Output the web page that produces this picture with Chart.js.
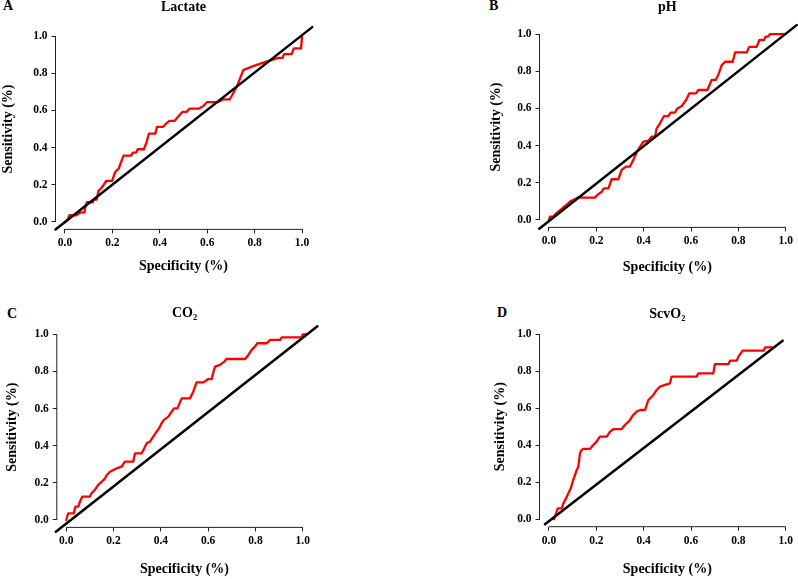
<!DOCTYPE html>
<html>
<head>
<meta charset="utf-8">
<script src="https://cdn.jsdelivr.net/npm/chart.js@4.4.1/dist/chart.umd.min.js"></script>
<style>
  html, body { margin: 0; padding: 0; background: #fff; }
  body { width: 798px; height: 579px; position: relative; overflow: hidden; }
  canvas { position: absolute; }
  .lbl { position: absolute; font-family: 'Liberation Serif', 'Times New Roman', serif; font-weight: bold; font-size: 14px; line-height: 14px; color: #000; }
</style>
</head>
<body>
<div class="lbl" style="left:3px;top:-1px">A</div>
<div class="lbl" style="left:489px;top:-1px">B</div>
<div class="lbl" style="left:7px;top:307px">C</div>
<div class="lbl" style="left:497px;top:306px">D</div>
<canvas id="pA" width="399" height="290" style="left:0;top:0"></canvas>
<canvas id="pB" width="399" height="290" style="left:399px;top:0"></canvas>
<canvas id="pC" width="399" height="290" style="left:0;top:289px"></canvas>
<canvas id="pD" width="399" height="290" style="left:399px;top:289px"></canvas>
<script>
// ---- data ----
const panelTitles = ['Lactate', 'pH', 'CO\u2082', 'ScvO\u2082'];
const tickValues = [0, 0.2, 0.4, 0.6, 0.8, 1.0];
const tickLabels = ['0.0', '0.2', '0.4', '0.6', '0.8', '1.0'];
const xAxisTitle = 'Specificity (%)';
const yAxisTitle = 'Sensitivity (%)';

const lactateSpec = [0, 0.011, 0.018, 0.047, 0.068, 0.082, 0.086, 0.092, 0.117, 0.121, 0.134, 0.141, 0.152, 0.159, 0.171, 0.173, 0.199, 0.209, 0.216, 0.227, 0.233, 0.247, 0.279, 0.286, 0.3, 0.307, 0.333, 0.343, 0.354, 0.381, 0.388, 0.413, 0.427, 0.441, 0.463, 0.477, 0.495, 0.512, 0.526, 0.566, 0.583, 0.6, 0.646, 0.667, 0.695, 0.709, 0.726, 0.752, 0.794, 0.85, 0.9, 0.918, 0.924, 0.956, 0.966, 0.996, 1.0];
const lactateSens = [0, 0.009, 0.036, 0.036, 0.052, 0.052, 0.081, 0.106, 0.106, 0.12, 0.12, 0.167, 0.18, 0.192, 0.215, 0.221, 0.221, 0.26, 0.275, 0.287, 0.31, 0.357, 0.357, 0.373, 0.373, 0.391, 0.391, 0.425, 0.475, 0.475, 0.511, 0.511, 0.53, 0.544, 0.544, 0.566, 0.592, 0.592, 0.61, 0.61, 0.623, 0.645, 0.645, 0.659, 0.659, 0.691, 0.731, 0.817, 0.838, 0.862, 0.883, 0.883, 0.903, 0.903, 0.934, 0.934, 1.0];

const phSpec = [0, 0.004, 0.018, 0.03, 0.045, 0.06, 0.075, 0.089, 0.103, 0.12, 0.194, 0.208, 0.223, 0.232, 0.251, 0.265, 0.293, 0.307, 0.325, 0.342, 0.356, 0.37, 0.385, 0.399, 0.42, 0.434, 0.448, 0.455, 0.469, 0.486, 0.504, 0.514, 0.532, 0.542, 0.561, 0.579, 0.593, 0.621, 0.631, 0.669, 0.687, 0.704, 0.715, 0.73, 0.744, 0.776, 0.786, 0.835, 0.846, 0.877, 0.889, 0.908, 0.915, 0.925, 0.934, 1.0];
const phSens = [0, 0.018, 0.018, 0.035, 0.05, 0.067, 0.082, 0.099, 0.108, 0.12, 0.12, 0.138, 0.152, 0.17, 0.17, 0.219, 0.219, 0.269, 0.287, 0.287, 0.323, 0.362, 0.394, 0.421, 0.427, 0.448, 0.448, 0.493, 0.52, 0.559, 0.559, 0.577, 0.577, 0.6, 0.613, 0.645, 0.681, 0.681, 0.699, 0.699, 0.753, 0.753, 0.78, 0.833, 0.851, 0.851, 0.901, 0.901, 0.931, 0.931, 0.968, 0.968, 0.986, 0.986, 1.0, 1.0];

const co2Spec = [0, 0.008, 0.032, 0.039, 0.051, 0.058, 0.068, 0.1, 0.107, 0.121, 0.135, 0.15, 0.164, 0.171, 0.185, 0.199, 0.213, 0.234, 0.248, 0.283, 0.291, 0.319, 0.33, 0.34, 0.354, 0.368, 0.382, 0.394, 0.403, 0.413, 0.432, 0.441, 0.456, 0.47, 0.488, 0.523, 0.537, 0.551, 0.58, 0.601, 0.615, 0.622, 0.629, 0.65, 0.671, 0.676, 0.756, 0.77, 0.784, 0.798, 0.808, 0.848, 0.862, 0.904, 0.911, 0.996, 1.0, 1.017];
const co2Sens = [0, 0.036, 0.036, 0.072, 0.072, 0.099, 0.126, 0.126, 0.144, 0.162, 0.189, 0.206, 0.224, 0.242, 0.26, 0.269, 0.278, 0.287, 0.314, 0.314, 0.359, 0.359, 0.386, 0.413, 0.422, 0.449, 0.476, 0.497, 0.521, 0.539, 0.557, 0.575, 0.601, 0.601, 0.655, 0.655, 0.691, 0.741, 0.741, 0.759, 0.759, 0.795, 0.826, 0.835, 0.856, 0.867, 0.867, 0.889, 0.916, 0.934, 0.952, 0.952, 0.97, 0.97, 0.984, 0.984, 1.0, 1.0];

const scvo2Spec = [0.021, 0.028, 0.037, 0.054, 0.061, 0.072, 0.082, 0.092, 0.1, 0.11, 0.117, 0.124, 0.131, 0.138, 0.145, 0.173, 0.187, 0.201, 0.215, 0.244, 0.258, 0.272, 0.307, 0.321, 0.342, 0.356, 0.37, 0.385, 0.406, 0.42, 0.441, 0.455, 0.469, 0.49, 0.511, 0.518, 0.624, 0.631, 0.694, 0.701, 0.758, 0.765, 0.793, 0.8, 0.818, 0.906, 0.913, 0.945];
const scvo2Sens = [0, 0.023, 0.059, 0.059, 0.086, 0.113, 0.14, 0.167, 0.203, 0.239, 0.266, 0.284, 0.356, 0.374, 0.38, 0.38, 0.401, 0.419, 0.446, 0.446, 0.473, 0.487, 0.487, 0.509, 0.536, 0.563, 0.581, 0.59, 0.59, 0.644, 0.671, 0.698, 0.716, 0.725, 0.734, 0.77, 0.77, 0.788, 0.788, 0.838, 0.838, 0.856, 0.856, 0.878, 0.91, 0.91, 0.928, 0.928];

// reference (chance) lines, as drawn in each panel
const refA_x = [-0.04, 1.043]; const refA_y = [-0.04, 1.048];
const refB_x = [-0.041, 1.046]; const refB_y = [-0.047, 1.048];
const refC_x = [-0.044, 1.062]; const refC_y = [-0.063, 1.043];
const refD_x = [-0.017, 0.987]; const refD_y = [-0.027, 0.964];

// ---- drawing ----
const FONT = "'Liberation Serif', 'Times New Roman', serif";
Chart.defaults.font.family = FONT;
Chart.defaults.font.weight = 'bold';
Chart.defaults.color = '#000';
const AXIS_COLOR = '#222';

const rAxes = {
  id: 'rAxes',
  beforeDatasetsDraw(chart) {
    const { ctx, chartArea, scales } = chart;
    const x = scales.x, y = scales.y;
    ctx.save();
    ctx.strokeStyle = AXIS_COLOR;
    ctx.lineWidth = 1;
    ctx.beginPath();
    ctx.moveTo(x.getPixelForValue(tickValues[0]), chartArea.bottom);
    ctx.lineTo(x.getPixelForValue(tickValues[tickValues.length - 1]), chartArea.bottom);
    ctx.moveTo(chartArea.left, y.getPixelForValue(tickValues[0]));
    ctx.lineTo(chartArea.left, y.getPixelForValue(tickValues[tickValues.length - 1]));
    ctx.stroke();
    ctx.restore();
  }
};

function pts(xs, ys) { return xs.map((v, i) => ({ x: v, y: ys[i] })); }

function setTicks(scale) {
  scale.ticks = tickValues.map(v => ({ value: v }));
}

function makePanel(id, title, xs, ys, rx, ry, L) {
  new Chart(document.getElementById(id), {
    type: 'scatter',
    data: {
      datasets: [
        { data: pts(rx, ry), showLine: true, borderColor: '#000', borderWidth: 2.5, pointRadius: 0, clip: false, borderCapStyle: 'round' },
        { data: pts(xs, ys), showLine: true, borderColor: '#ff0000', borderWidth: 2.3, pointRadius: 0, clip: false, borderJoinStyle: 'round', borderCapStyle: 'round' }
      ]
    },
    options: {
      responsive: false,
      animation: false,
      devicePixelRatio: 1,
      layout: { padding: { left: L.padLeft, right: L.padRight, top: L.padTop, bottom: L.padBottom } },
      plugins: {
        legend: { display: false },
        tooltip: { enabled: false },
        title: {
          display: true, text: title, fullSize: false, color: '#000',
          font: { size: 14, weight: 'bold', lineHeight: 1 },
          padding: { top: L.tpt, bottom: L.tpb }
        }
      },
      scales: {
        x: {
          type: 'linear', min: -0.04, max: 1.04,
          afterBuildTicks: setTicks,
          afterFit: s => { s.height = L.hx; },
          border: { display: false },
          grid: { display: true, drawOnChartArea: false, drawTicks: true, tickLength: 4, color: AXIS_COLOR, lineWidth: 1 },
          ticks: { autoSkip: false, maxRotation: 0, padding: 3, font: { size: 11.5, weight: 'bold' }, color: '#000',
                   callback: (v) => tickLabels[tickValues.indexOf(v)] },
          title: { display: true, text: xAxisTitle, color: '#000', padding: 0, font: { size: 14, weight: 'bold', lineHeight: 1.2 } }
        },
        y: {
          type: 'linear', min: -0.04, max: 1.04,
          afterBuildTicks: setTicks,
          afterFit: s => { s.width = L.wy; },
          border: { display: false },
          grid: { display: true, drawOnChartArea: false, drawTicks: true, tickLength: 4, color: AXIS_COLOR, lineWidth: 1 },
          ticks: { autoSkip: false, padding: 4, font: { size: 11.5, weight: 'bold' }, color: '#000',
                   callback: (v) => tickLabels[tickValues.indexOf(v)] },
          title: { display: true, text: yAxisTitle, color: '#000', padding: 0, font: { size: 14, weight: 'bold', lineHeight: 1.2 } }
        }
      }
    },
    plugins: [rAxes]
  });
}

makePanel('pA', panelTitles[0], lactateSpec, lactateSens, refA_x, refA_y,
  { padLeft: 0, wy: 55.5, padRight: 87.5, padTop: 0, tpt: 0, tpb: 14.6, hx: 45, padBottom: 15.6 });
makePanel('pB', panelTitles[1], phSpec, phSens, refB_x, refB_y,
  { padLeft: 88.6, wy: 51.9, padRight: 2.8, padTop: 0, tpt: 0, tpb: 12.6, hx: 48, padBottom: 14.6 });
makePanel('pC', panelTitles[2], co2Spec, co2Sens, refC_x, refC_y,
  { padLeft: 4.1, wy: 52.7, padRight: 86.8, padTop: 0, tpt: 17, tpb: 6.9, hx: 50, padBottom: 1.6 });
makePanel('pD', panelTitles[3], scvo2Spec, scvo2Sens, refD_x, refD_y,
  { padLeft: 92.6, wy: 47.9, padRight: 2.8, padTop: 0, tpt: 18.6, tpb: 5, hx: 51.3, padBottom: 1 });
</script>
</body>
</html>
